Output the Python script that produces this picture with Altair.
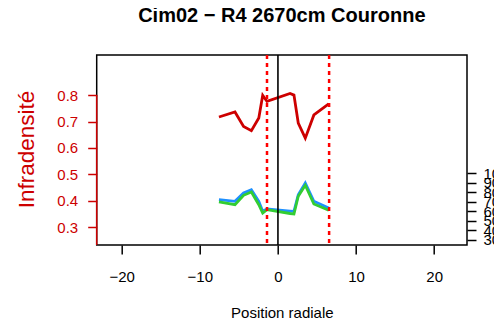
import altair as alt
import pandas as pd

# ---- data ----
positions = [-7.55, -5.5, -4.4, -3.4, -2.45, -1.95, -1.4, 1.55, 2.05, 2.6, 3.5, 4.6, 6.5]
infradensite = [0.717, 0.736, 0.681, 0.665, 0.713, 0.799, 0.776, 0.806, 0.800, 0.694, 0.637, 0.725, 0.767]
serie_bleue = [72.3, 70.6, 79.3, 82.8, 70.6, 60.1, 62.5, 60.4, 60.1, 77.5, 89.8, 70.6, 63.6]
serie_verte = [69.9, 67.0, 76.9, 80.4, 67.0, 58.3, 61.8, 57.8, 57.3, 75.9, 87.4, 67.8, 61.2]
limites = [-1.4, 6.55]
centre = [0]
x_ticks = [-20, -10, 0, 10, 20]
y_ticks = [0.3, 0.4, 0.5, 0.6, 0.7, 0.8]
y2_ticks = [30, 40, 50, 60, 70, 80, 90, 100]

FONT = "Liberation Sans"
RED = "#CD0000"

df = pd.DataFrame({"pos": positions, "inf": infradensite,
                   "bleu": serie_bleue, "vert": serie_verte})

xscale = alt.Scale(domain=[-23.2, 24.2], nice=False, zero=False)
xaxis = alt.Axis(values=x_ticks, title="Position radiale", grid=False, domain=False,
                 tickColor="black", tickWidth=1.5, tickSize=9, labelFontSize=15,
                 labelFont=FONT, labelColor="black", labelBaseline="alphabetic",
                 labelPadding=27, labelFlush=False, format="d",
                 titleFontSize=15, titleFont=FONT, titleFontWeight="normal",
                 titleColor="black", titleBaseline="alphabetic", titleY=72)

yscale_left = alt.Scale(domain=[0.232, 0.952], nice=False, zero=False)
yaxis_left = alt.Axis(orient="left", values=y_ticks, format=".1f", title="Infradensité",
                      grid=False, domain=False, tickColor=RED, tickWidth=1.5, tickSize=9,
                      labelColor=RED, labelFontSize=15, labelFont=FONT, labelPadding=10,
                      labelOverlap=False, labelFlush=False,
                      titleColor=RED, titleFontSize=22.5, titleFont=FONT,
                      titleFontWeight="normal", titleX=-63, titleY=94, titleAngle=270,
                      titleBaseline="alphabetic", titleAlign="center")

yscale_right = alt.Scale(domain=[24.75, 224.1], nice=False, zero=False)
yaxis_right = alt.Axis(orient="right", values=y2_ticks, format="d", title="",
                       grid=False, domain=False, tickColor="black", tickWidth=1.5,
                       tickSize=9, labelColor="black", labelFontSize=15, labelFont=FONT,
                       labelPadding=7, labelOverlap=False, labelFlush=False,
                       labelAlign="left", labelBaseline="middle")

base = alt.Chart(df)

red_line = base.mark_line(color=RED, strokeWidth=2.8).encode(
    x=alt.X("pos:Q", scale=xscale, axis=xaxis),
    y=alt.Y("inf:Q", scale=yscale_left, axis=yaxis_left),
)
red_axis_line = alt.Chart(pd.DataFrame({"inf": [max(y_ticks)]})).mark_rule(
    color=RED, strokeWidth=1.5).encode(
    x=alt.value(0),
    y=alt.Y("inf:Q", scale=yscale_left, axis=yaxis_left),
    y2=alt.value(190),
)
left = alt.layer(red_line, red_axis_line)

blue_line = base.mark_line(color="#1E90FF", strokeWidth=2.8).encode(
    x=alt.X("pos:Q", scale=xscale, axis=xaxis),
    y=alt.Y("bleu:Q", scale=yscale_right, axis=yaxis_right),
)
green_line = base.mark_line(color="#32CD32", strokeWidth=2.8).encode(
    x=alt.X("pos:Q", scale=xscale, axis=xaxis),
    y=alt.Y("vert:Q", scale=yscale_right, axis=yaxis_right),
)
right = alt.layer(blue_line, green_line)

dashed = alt.Chart(pd.DataFrame({"pos": limites})).mark_rule(
    color="#FF0000", strokeWidth=2.5, strokeDash=[4, 4]).encode(
    x=alt.X("pos:Q", scale=xscale, axis=xaxis))
centre_rule = alt.Chart(pd.DataFrame({"pos": centre})).mark_rule(
    color="black", strokeWidth=1.6).encode(
    x=alt.X("pos:Q", scale=xscale, axis=xaxis))

chart = alt.layer(left, right, dashed, centre_rule).resolve_scale(
    y="independent"
).properties(
    width=370.3,
    height=190,
    title=alt.TitleParams("Cim02 − R4 2670cm Couronne", fontSize=20, font=FONT,
                          fontWeight="bold", color="black", anchor="middle",
                          frame="group", offset=12, baseline="alphabetic"),
    padding={"left": 88.7, "top": 47, "right": 27, "bottom": 77},
    autosize=alt.AutoSizeParams(type="none"),
    background="white",
).configure_view(stroke="black", strokeWidth=1.5)

chart.save("out.html", embed_options={"renderer": "svg", "actions": False})
